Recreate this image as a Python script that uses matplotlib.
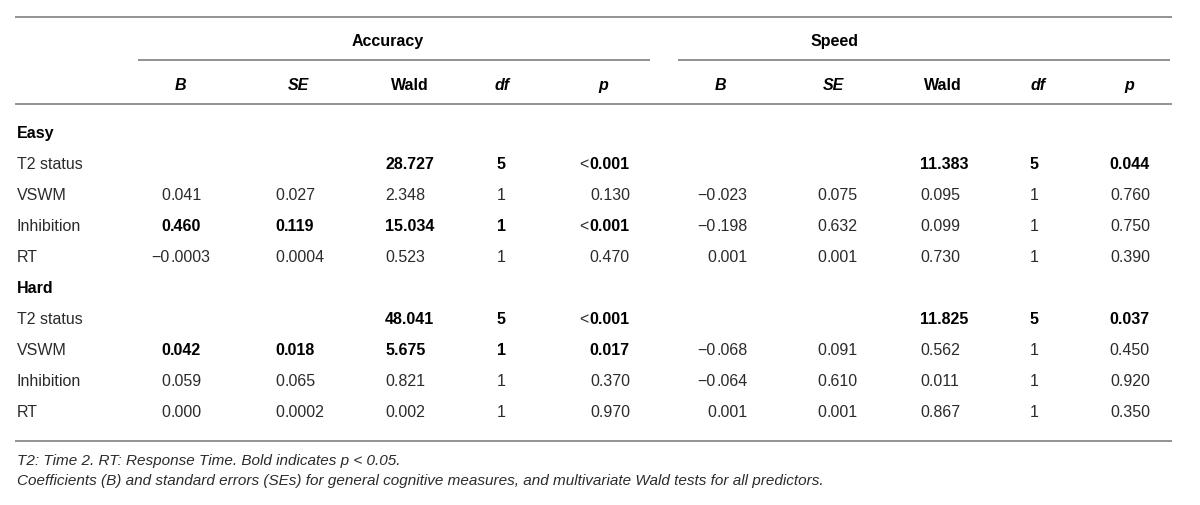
import matplotlib
matplotlib.use("Agg")
from matplotlib import pyplot as plt

plt.rcParams['font.family'] = ['Liberation Sans', 'DejaVu Sans']

GROUPS = ["Accuracy", "Speed"]
COLUMNS = ["B", "SE", "Wald", "df", "p"]
SECTIONS = ["Easy", "Hard"]
ROWS = ["T2 status", "VSWM", "Inhibition", "RT"]

# Easy / Accuracy
EASY_ACC_B    = ["", "0.041", "0.460", "\u22120.0003"]
EASY_ACC_SE   = ["", "0.027", "0.119", "0.0004"]
EASY_ACC_WALD = ["28.727", "2.348", "15.034", "0.523"]
EASY_ACC_DF   = ["5", "1", "1", "1"]
EASY_ACC_P    = ["<0.001", "0.130", "<0.001", "0.470"]
EASY_ACC_BOLD = [True, False, True, False]

# Easy / Speed
EASY_SPD_B    = ["", "\u22120.023", "\u22120.198", "0.001"]
EASY_SPD_SE   = ["", "0.075", "0.632", "0.001"]
EASY_SPD_WALD = ["11.383", "0.095", "0.099", "0.730"]
EASY_SPD_DF   = ["5", "1", "1", "1"]
EASY_SPD_P    = ["0.044", "0.760", "0.750", "0.390"]
EASY_SPD_BOLD = [True, False, False, False]

# Hard / Accuracy
HARD_ACC_B    = ["", "0.042", "0.059", "0.000"]
HARD_ACC_SE   = ["", "0.018", "0.065", "0.0002"]
HARD_ACC_WALD = ["48.041", "5.675", "0.821", "0.002"]
HARD_ACC_DF   = ["5", "1", "1", "1"]
HARD_ACC_P    = ["<0.001", "0.017", "0.370", "0.970"]
HARD_ACC_BOLD = [True, True, False, False]

# Hard / Speed
HARD_SPD_B    = ["", "\u22120.068", "\u22120.064", "0.001"]
HARD_SPD_SE   = ["", "0.091", "0.610", "0.001"]
HARD_SPD_WALD = ["11.825", "0.562", "0.011", "0.867"]
HARD_SPD_DF   = ["5", "1", "1", "1"]
HARD_SPD_P    = ["0.037", "0.450", "0.920", "0.350"]
HARD_SPD_BOLD = [True, False, False, False]

NOTES = ["T2: Time 2. RT: Response Time. Bold indicates p < 0.05.",
         "Coefficients (B) and standard errors (SEs) for general cognitive measures, "
         "and multivariate Wald tests for all predictors."]

FS = 11.5
NORMAL = '#2b2b2b'
RULE = '#8a8a8a'

fig = plt.figure(figsize=(12, 5.05), dpi=100)
ax = fig.add_axes([0, 0, 1, 1])
ax.set_xlim(0, 1200)
ax.set_ylim(505, 0)
ax.axis('off')
renderer = fig.canvas.get_renderer()

# column anchors: (x, mode) -- 'dec' decimal point, 'left', 'center', 'right'
anchors = [
    [(170, 'dec'), (284, 'dec'), (385, 'left'), (501, 'center'), (630, 'right')],
    [(716, 'dec'), (826, 'dec'), (920, 'left'), (1034, 'center'), (1150, 'right')],
]
header_x = [[180, 298, 410, 502, 603], [720, 833, 943, 1038, 1129]]
group_x = [388, 835]
group_rule = [(138, 650), (678, 1170)]
VA = 'center_baseline'

# rules
ax.hlines([17, 104, 441], 15, 1172, color=RULE, lw=1.3)
for x0, x1 in group_rule:
    ax.hlines(60, x0, x1, color=RULE, lw=1.3)

for g, name in enumerate(GROUPS):
    ax.text(group_x[g], 40, name, ha='center', va=VA, fontsize=FS,
            fontweight='bold', color='black')
    for c, col in enumerate(COLUMNS):
        style = 'normal' if col == "Wald" else 'italic'
        ax.text(header_x[g][c], 84, col, ha='center', va=VA, fontsize=FS,
                fontweight='bold', fontstyle=style, color='black')


def put(x, y, s, mode, bold):
    kw = dict(va=VA, fontsize=FS, fontweight='bold' if bold else 'normal',
              color='black' if bold else NORMAL)
    if not s:
        return
    if s.startswith("<"):
        t = ax.text(x, y, s[1:], ha='right', **kw)
        bb = t.get_window_extent(renderer)
        xl = ax.transData.inverted().transform((bb.x0, bb.y0))[0]
        ax.text(xl - 1, y, "<", ha='right', va=VA, fontsize=FS, color=NORMAL)
        return
    if mode == 'dec':
        head, tail = s.split(".")
        ax.text(x, y, head, ha='right', **kw)
        ax.text(x, y, "." + tail, ha='left', **kw)
    else:
        ax.text(x, y, s, ha=mode, **kw)


blocks = [
    [(EASY_ACC_B, EASY_ACC_SE, EASY_ACC_WALD, EASY_ACC_DF, EASY_ACC_P, EASY_ACC_BOLD),
     (EASY_SPD_B, EASY_SPD_SE, EASY_SPD_WALD, EASY_SPD_DF, EASY_SPD_P, EASY_SPD_BOLD)],
    [(HARD_ACC_B, HARD_ACC_SE, HARD_ACC_WALD, HARD_ACC_DF, HARD_ACC_P, HARD_ACC_BOLD),
     (HARD_SPD_B, HARD_SPD_SE, HARD_SPD_WALD, HARD_SPD_DF, HARD_SPD_P, HARD_SPD_BOLD)],
]

y = 132
step = 31
for s, section in enumerate(SECTIONS):
    ax.text(17, y, section, ha='left', va=VA, fontsize=FS,
            fontweight='bold', color='black')
    y += step
    for r, row in enumerate(ROWS):
        ax.text(17, y, row, ha='left', va=VA, fontsize=FS, color=NORMAL)
        for g in range(2):
            cols = blocks[s][g]
            bold = cols[5][r]
            for c in range(5):
                x, mode = anchors[g][c]
                put(x, y, cols[c][r], mode, bold)
        y += step

for i, note in enumerate(NOTES):
    ax.text(17, 459 + 20 * i, note, ha='left', va=VA, fontsize=11,
            fontstyle='italic', color=NORMAL)

fig.savefig("out.png", dpi=100)
